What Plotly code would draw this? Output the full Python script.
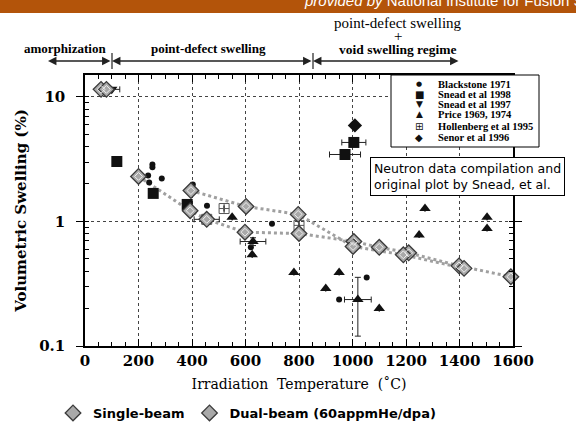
import plotly.graph_objects as go

# ---------------- data ----------------
single_T = [60, None, 200, 393, 455, 598, 800, 1005, 1100, 1210, 1398, 1592]
single_V = [11.5, None, 2.3, 1.22, 1.04, 0.82, 0.80, 0.69, 0.62, 0.56, 0.44, 0.36]
dual_T = [80, None, 396, 602, 797, 1002, 1190, 1417]
dual_V = [11.5, None, 1.77, 1.32, 1.14, 0.63, 0.54, 0.42]

blackstone_T = [236, 240, 252, 252, 287, 403, 456, 620, 699, 950, 1053]
blackstone_V = [2.34, 2.06, 2.87, 2.72, 2.21, 1.98, 1.34, 0.62, 0.96, 0.236, 0.355]

snead98_T = [119, 255, 382, 972, 1005]
snead98_V = [3.03, 1.68, 1.37, 3.45, 4.31]
snead98_Terr = [0, 0, 0, 58, 45]

snead97_T = [100]
snead97_V = [11.5]
snead97_Terr = [30]

price_T = [550, 628, 625, 781, 900, 950, 1020, 1100, 1249, 1271, 1503, 1503]
price_V = [1.08, 0.69, 0.54, 0.39, 0.29, 0.39, 0.236, 0.20, 0.78, 1.27, 1.08, 0.88]
price_Terr = [0, 48, 0, 0, 0, 0, 50, 0, 0, 0, 0, 0]
price_Verr_plus = [0, 0.05, 0, 0, 0, 0, 0.12, 0, 0, 0, 0, 0]
price_Verr_minus = [0, 0.05, 0, 0, 0, 0, 0.116, 0, 0, 0, 0, 0]

hollenberg_T = [455, 520, 800]
hollenberg_V = [1.04, 1.27, 0.93]
hollenberg_Terr = [47, 0, 0]

senor_T = [1009]
senor_V = [5.9]

x_ticks = [0, 200, 400, 600, 800, 1000, 1200, 1400, 1600]

neutron_legend = ["Blackstone 1971", "Snead et al 1998", "Snead et al 1997",
                  "Price 1969, 1974", "Hollenberg et al 1995", "Senor et al 1996"]
neutron_glyphs = ["\u25CF", "\u25A0", "\u25BC", "\u25B2", "\u229E", "\u25C6"]

# ---------------- figure geometry helpers (pixels -> paper) ----------------
W, H = 576, 430
L, R, T, B = 85, 63, 75, 84
PW, PH = W - L - R, H - T - B


def px(x):
    return (x - L) / PW


def py(y):
    return (H - B - y) / PH


fig = go.Figure()

line_style = dict(color="#a0a0a0", width=3, dash="dot")
diamond = dict(symbol="diamond", size=12, color="#a9a9a9",
               line=dict(color="#3a3a3a", width=1.3))
inner = dict(symbol="diamond-open", size=6, color="#eeeeee", line=dict(width=1))

# connecting dotted lines (not in legend)
fig.add_trace(go.Scatter(x=single_T, y=single_V, mode="lines", line=line_style,
                         connectgaps=False, showlegend=False, hoverinfo="skip"))
fig.add_trace(go.Scatter(x=dual_T, y=dual_V, mode="lines", line=line_style,
                         connectgaps=False, showlegend=False, hoverinfo="skip"))

err = dict(color="#222", thickness=1, width=3)

fig.add_trace(go.Scatter(x=blackstone_T, y=blackstone_V, mode="markers", showlegend=False,
                         marker=dict(symbol="circle", size=6, color="#111"), name="Blackstone 1971"))
fig.add_trace(go.Scatter(x=snead98_T, y=snead98_V, mode="markers", showlegend=False,
                         error_x=dict(type="data", array=snead98_Terr, **err),
                         marker=dict(symbol="square", size=11, color="#111"), name="Snead et al 1998"))
fig.add_trace(go.Scatter(x=snead97_T, y=snead97_V, mode="markers", showlegend=False,
                         error_x=dict(type="data", array=snead97_Terr, **err),
                         marker=dict(symbol="triangle-down", size=10, color="#111"), name="Snead et al 1997"))
fig.add_trace(go.Scatter(x=price_T, y=price_V, mode="markers", showlegend=False,
                         error_x=dict(type="data", array=price_Terr, **err),
                         error_y=dict(type="data", array=price_Verr_plus, arrayminus=price_Verr_minus,
                                      symmetric=False, **err),
                         marker=dict(symbol="triangle-up", size=10, color="#111"), name="Price 1969, 1974"))
fig.add_trace(go.Scatter(x=hollenberg_T, y=hollenberg_V, mode="markers", showlegend=False,
                         error_x=dict(type="data", array=hollenberg_Terr, **err),
                         marker=dict(symbol="square-cross-open", size=10, color="#555",
                                     line=dict(width=1)), name="Hollenberg et al 1995"))
fig.add_trace(go.Scatter(x=senor_T, y=senor_V, mode="markers", showlegend=False,
                         marker=dict(symbol="diamond", size=11, color="#111"), name="Senor et al 1996"))

# ion-irradiation diamonds (in bottom legend)
fig.add_trace(go.Scatter(x=single_T, y=single_V, mode="markers", name="Single-beam",
                         marker=diamond, cliponaxis=False))
fig.add_trace(go.Scatter(x=dual_T, y=dual_V, mode="markers", name="Dual-beam (60appmHe/dpa)",
                         marker=diamond, cliponaxis=False))
fig.add_trace(go.Scatter(x=single_T, y=single_V, mode="markers", marker=inner, showlegend=False,
                         cliponaxis=False, hoverinfo="skip"))
fig.add_trace(go.Scatter(x=dual_T, y=dual_V, mode="markers", marker=inner, showlegend=False,
                         cliponaxis=False, hoverinfo="skip"))

axis_common = dict(showline=True, linecolor="black", linewidth=1.5, mirror="allticks",
                   showgrid=True, gridcolor="#444", gridwidth=1, griddash="dot",
                   zeroline=False, tickcolor="black", automargin=False,
                   tickfont=dict(family="DejaVu Serif", size=15, color="black", weight="bold"))

fig.update_xaxes(range=[0, 1600], tickvals=x_ticks, ticks="inside", ticklen=7,
                 minor=dict(dtick=50, ticks="inside", ticklen=4, tickcolor="black", showgrid=False),
                 title=dict(text="Irradiation  Temperature  (\u02DAC)", standoff=10,
                            font=dict(family="DejaVu Serif", size=14, color="black")),
                 **axis_common)
fig.update_yaxes(type="log", range=[-1, 1.1761], dtick=1, ticks="outside", ticklen=7,
                 ticklabelstandoff=8,
                 minor=dict(ticks="inside", ticklen=4, tickcolor="black", showgrid=False),
                 title=dict(text="Volumetric Swelling (%)", standoff=9,
                            font=dict(family="DejaVu Serif", size=15, color="black", weight="bold")),
                 **axis_common)

ann = []
shapes = []


def label(x, y, text, font, xanchor="center", yanchor="middle", **kw):
    ann.append(dict(xref="paper", yref="paper", x=px(x), y=py(y), text=text, showarrow=False,
                    xanchor=xanchor, yanchor=yanchor, font=font, **kw))


# top banner
shapes.append(dict(type="rect", xref="paper", yref="paper", x0=px(-5), x1=px(W + 5),
                   y0=py(13), y1=py(-5), fillcolor="#b3540a", line=dict(width=0), layer="above"))
label(302, 11, "<i>provided by</i> National Institute for Fusion Science",
      dict(family="Liberation Sans", size=15, color="white"), xanchor="left", yanchor="bottom")

# regime labels
serif_b = dict(family="Liberation Serif", size=13, color="black", weight="bold")
serif_r = dict(family="Liberation Serif", size=15, color="black")
label(65, 49, "amorphization", serif_b)
label(208, 49, "point-defect swelling", serif_b)
label(398, 23, "point-defect swelling", serif_r, borderpad=0)
label(398, 36, "+", serif_r, borderpad=0)
label(398, 50, "void swelling regime", dict(serif_b, size=13.5), borderpad=0)

# regime arrows
for x0, x1 in [(48, 112), (112, 313), (313, 460)]:
    ann.append(dict(xref="paper", yref="paper", x=px(x0), y=py(61), ax=x1 - x0, ay=0,
                    text="", showarrow=True, arrowside="end+start", arrowhead=2,
                    arrowsize=1.3, arrowwidth=1.3, arrowcolor="#222"))
for xs in [112, 313]:
    shapes.append(dict(type="line", xref="paper", yref="paper", x0=px(xs), x1=px(xs),
                       y0=py(53), y1=py(69), line=dict(color="#222", width=1.2)))

# neutron-data legend box
shapes.append(dict(type="rect", xref="paper", yref="paper", x0=px(391), x1=px(539),
                   y0=py(147), y1=py(75), fillcolor="white", line=dict(color="black", width=1),
                   layer="above"))
row_y = [84, 94, 104, 114, 126, 137]
glyph_sizes = [7, 10, 9, 9, 10, 10]
for name, glyph, yy, gs in zip(neutron_legend, neutron_glyphs, row_y, glyph_sizes):
    label(419, yy, glyph, dict(family="DejaVu Sans", size=gs, color="#111"), borderpad=0)
    label(437, yy, name, dict(family="Liberation Serif", size=10.5, color="black", weight="bold"),
          xanchor="left", borderpad=0)

# source note box
label(370, 157, "Neutron data compilation and<br>original plot by Snead, et al.",
      dict(family="DejaVu Sans", size=12.5, color="black"), xanchor="left", yanchor="top",
      align="left", bgcolor="white", bordercolor="black", borderwidth=1, borderpad=3)

fig.update_layout(
    width=W, height=H, autosize=False,
    margin=dict(l=L, r=R, t=T, b=B, autoexpand=False),
    paper_bgcolor="white", plot_bgcolor="white",
    shapes=shapes, annotations=ann,
    legend=dict(orientation="h", xref="container", yref="container",
                x=53 / W, y=1 - 413 / H, xanchor="left", yanchor="middle",
                font=dict(family="DejaVu Sans", size=13, color="black", weight="bold"),
                bgcolor="rgba(0,0,0,0)"),
)

fig.write_html("out.html", config={"displayModeBar": False},
               post_script="document.body.style.margin='0';")
